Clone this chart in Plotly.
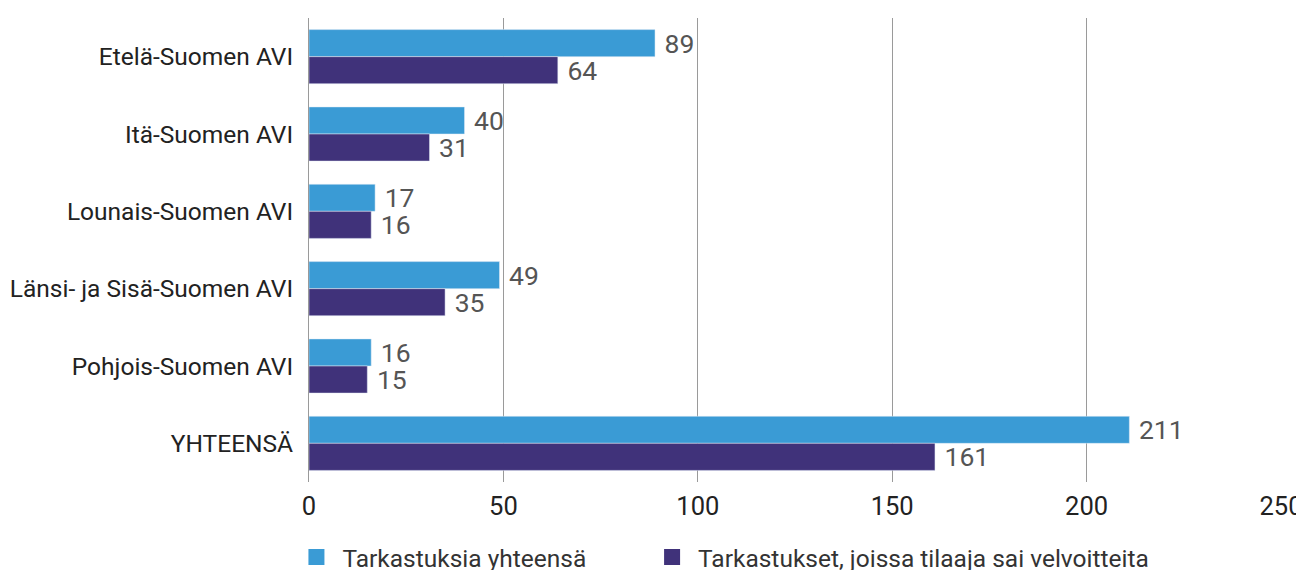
import plotly.graph_objects as go

# Tarkastukset aluehallintovirastoittain
alueet = [
    "Etelä-Suomen AVI",
    "Itä-Suomen AVI",
    "Lounais-Suomen AVI",
    "Länsi- ja Sisä-Suomen AVI",
    "Pohjois-Suomen AVI",
    "YHTEENSÄ",
]
tarkastuksia_yhteensa = [89, 40, 17, 49, 16, 211]
velvoitteita = [64, 31, 16, 35, 15, 161]

nimi_1 = "Tarkastuksia yhteensä"
nimi_2 = "Tarkastukset, joissa tilaaja sai velvoitteita"

SININEN = "#3a9bd5"
VIOLETTI = "#40327a"
FONTTI = "Roboto, Arial, sans-serif"

fig = go.Figure()
for nimi, arvot, vari, selite in [
    (nimi_1, tarkastuksia_yhteensa, SININEN, "legend"),
    (nimi_2, velvoitteita, VIOLETTI, "legend2"),
]:
    fig.add_trace(go.Bar(
        y=alueet, x=arvot, orientation="h", name=nimi,
        marker_color=vari, text=arvot, texttemplate="\u00a0%{x}",
        textposition="outside", constraintext="none",
        textfont=dict(size=26.5, color="#555555"),
        cliponaxis=False, showlegend=False,
    ))
    # legendan neliöt
    fig.add_trace(go.Scatter(
        x=[None], y=[None], mode="markers", name=nimi, legend=selite,
        marker=dict(symbol="square", size=22, color=vari),
    ))

selite_tyyli = dict(
    orientation="h", xanchor="left", y=-0.162, yanchor="middle",
    font=dict(size=24.5, color="#333333"), bgcolor="rgba(0,0,0,0)",
    itemwidth=42,
)

# sivun oletusreunus (8 px) on huomioitu marginaaleissa
fig.update_layout(
    width=1304, height=570,
    margin=dict(l=301, r=31, t=10, b=96, autoexpand=False),
    barmode="group", bargap=0.3, bargroupgap=0,
    plot_bgcolor="white", paper_bgcolor="white",
    font=dict(family=FONTTI, size=24, color="#222222"),
    legend=dict(x=-0.0191, **selite_tyyli),
    legend2=dict(x=0.3468, **selite_tyyli),
)
fig.update_xaxes(
    range=[0, 250], dtick=50, showgrid=True, gridcolor="#9a9a9a", gridwidth=1,
    zeroline=False, showline=False, ticks="", ticklabelstandoff=6,
    tickfont=dict(size=25.5, color="#222222"), automargin=False,
)
fig.update_yaxes(
    autorange="reversed", showline=True, linecolor="#9a9a9a", linewidth=1,
    ticks="", ticklabelstandoff=10, tickfont=dict(size=24.5, color="#222222"),
    automargin=False,
)

fig.write_html("out.html")
